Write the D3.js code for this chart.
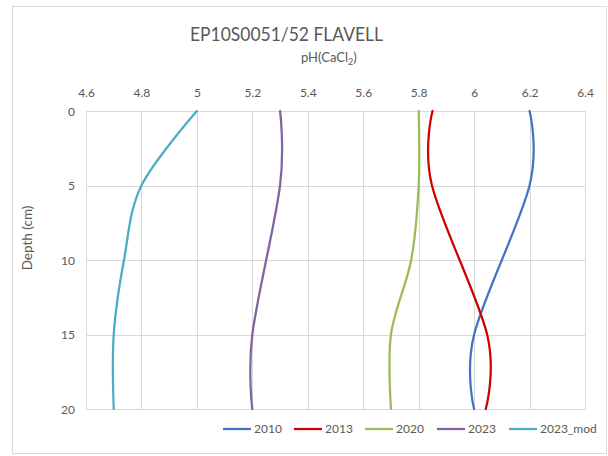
<!DOCTYPE html>
<html>
<head>
<meta charset="utf-8">
<script src="https://cdn.jsdelivr.net/npm/d3@7"></script>
<style>
  html, body { margin: 0; padding: 0; background: #fff; }
  svg { display: block; font-family: Lato, "Open Sans", sans-serif; }
</style>
</head>
<body>
<svg id="chart" width="608" height="456"></svg>
<script>
// Sampling depths (cm) for each year and the pH(CaCl2) readings at those depths
const depths2010 = [0, 5, 15, 20];
const ph2010 = [6.20, 6.20, 6.00, 6.00];
const depths2013 = [0, 5, 15, 20];
const ph2013 = [5.85, 5.848, 6.047, 6.042];
const depths2020 = [0, 5, 10, 15, 20];
const ph2020 = [5.80, 5.80, 5.773, 5.70, 5.70];
const depths2023 = [0, 5, 15, 20];
const ph2023 = [5.30, 5.30, 5.20, 5.20];
const depths2023mod = [0, 5, 10, 15, 20];
const ph2023mod = [5.00, 4.80, 4.737, 4.70, 4.70];

const seriesNames = ["2010", "2013", "2020", "2023", "2023_mod"];
const seriesColors = ["#4472C4", "#D00000", "#9BBB59", "#8064A2", "#4BACC6"];
const seriesDepths = [depths2010, depths2013, depths2020, depths2023, depths2023mod];
const seriesValues = [ph2010, ph2013, ph2020, ph2023, ph2023mod];

const xTicks = [4.6, 4.8, 5, 5.2, 5.4, 5.6, 5.8, 6, 6.2, 6.4];
const yTicks = [0, 5, 10, 15, 20];

const svg = d3.select("#chart");
const textColor = "#595959";
const gridColor = "#D9D9D9";

// Outer chart frame
svg.append("rect")
  .attr("x", 12.5).attr("y", 6.5)
  .attr("width", 594).attr("height", 447)
  .attr("fill", "#fff").attr("stroke", gridColor).attr("stroke-width", 1);

const plot = { left: 86, right: 585, top: 111, bottom: 409 };

const x = d3.scaleLinear().domain([4.6, 6.4]).range([plot.left, plot.right]);
const y = d3.scaleLinear().domain([0, 20]).range([plot.top, plot.bottom]);

// Gridlines
const g = svg.append("g");
g.selectAll("line.vgrid").data(xTicks).join("line")
  .attr("class", "vgrid")
  .attr("x1", d => Math.round(x(d)) + 0.5).attr("x2", d => Math.round(x(d)) + 0.5)
  .attr("y1", plot.top).attr("y2", plot.bottom)
  .attr("stroke", gridColor).attr("stroke-width", 1);
g.selectAll("line.hgrid").data(yTicks).join("line")
  .attr("class", "hgrid")
  .attr("x1", plot.left).attr("x2", plot.right + 1)
  .attr("y1", d => Math.round(y(d)) + 0.5).attr("y2", d => Math.round(y(d)) + 0.5)
  .attr("stroke", gridColor).attr("stroke-width", 1);

// Top axis labels
const xAxis = d3.axisTop(x).tickValues(xTicks).tickSize(0).tickPadding(0)
  .tickFormat(d => String(d));
const xa = svg.append("g").attr("transform", `translate(0, 97)`).call(xAxis);
xa.select(".domain").remove();
xa.selectAll("text").attr("fill", textColor).attr("font-size", 12)
  .attr("font-family", "Lato, 'Open Sans', sans-serif").attr("dy", 0);

// Left axis labels
const yAxis = d3.axisLeft(y).tickValues(yTicks).tickSize(0).tickPadding(0)
  .tickFormat(d => String(d));
const ya = svg.append("g").attr("transform", `translate(75, 0)`).call(yAxis);
ya.select(".domain").remove();
ya.selectAll("text").attr("fill", textColor).attr("font-size", 12)
  .attr("font-family", "Lato, 'Open Sans', sans-serif").attr("dy", "0.35em");

// Title and axis titles
svg.append("text")
  .attr("x", 190).attr("y", 41)
  .attr("fill", textColor).attr("font-size", 19.5)
  .attr("textLength", 193).attr("lengthAdjust", "spacingAndGlyphs")
  .text("EP10S0051/52 FLAVELL");

const sub = svg.append("text")
  .attr("x", 301).attr("y", 62)
  .attr("fill", textColor).attr("font-size", 13);
sub.append("tspan").text("pH(CaCl");
sub.append("tspan").attr("font-size", 9).attr("dy", 3).text("2");
sub.append("tspan").attr("dy", -3).text(")");

svg.append("text")
  .attr("transform", "translate(32, 238) rotate(-90)")
  .attr("text-anchor", "middle")
  .attr("fill", textColor).attr("font-size", 13.5)
  .text("Depth (cm)");

// Smoothed profile lines
const line = d3.line()
  .x(d => x(d.v))
  .y(d => y(d.depth))
  .curve(d3.curveCardinal.tension(0));

const lines = svg.append("g");
seriesValues.forEach((vals, i) => {
  const pts = seriesDepths[i].map((dep, j) => ({ depth: dep, v: vals[j] }));
  lines.append("path")
    .datum(pts)
    .attr("d", line)
    .attr("fill", "none")
    .attr("stroke", seriesColors[i])
    .attr("stroke-width", 2.25)
    .attr("stroke-linecap", "round");
});

// Legend
const legendX = [223, 294, 365, 437, 509];
const legend = svg.append("g").attr("transform", "translate(0, 429)");
seriesNames.forEach((name, i) => {
  const item = legend.append("g").attr("transform", `translate(${legendX[i]}, 0)`);
  item.append("line")
    .attr("x1", 0).attr("x2", 28).attr("y1", 0).attr("y2", 0)
    .attr("stroke", seriesColors[i]).attr("stroke-width", 2.25);
  item.append("text")
    .attr("x", 31).attr("y", 0).attr("dy", "0.35em")
    .attr("fill", textColor).attr("font-size", 12)
    .text(name);
});
</script>
</body>
</html>
